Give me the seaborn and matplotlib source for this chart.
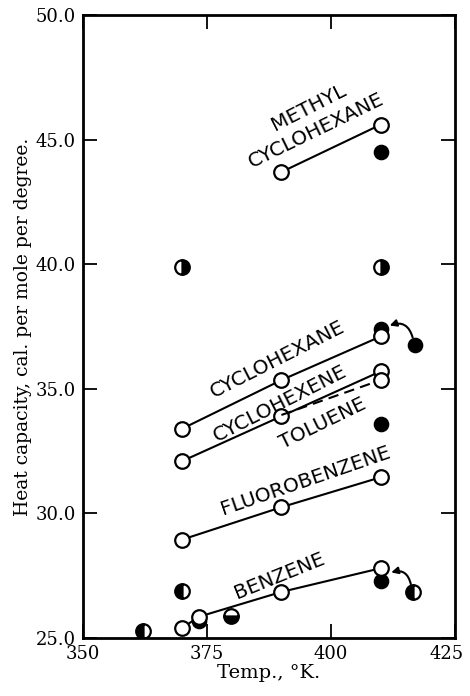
import matplotlib
matplotlib.use('Agg')
import matplotlib.pyplot as plt
import matplotlib.transforms as mtransforms
import seaborn as sns
import pandas as pd

# open circles joined by lines (smoothed values)
methyl_T = [390, 410]
methyl_cp = [43.7, 45.6]
cyclohexane_T = [370, 390, 410]
cyclohexane_cp = [33.4, 35.35, 37.1]
cyclohexene_T = [370, 390, 410]
cyclohexene_cp = [32.1, 33.9, 35.7]
toluene_T = [390, 410]
toluene_cp = [33.95, 35.35]
fluoro_T = [370, 390, 410]
fluoro_cp = [28.95, 30.25, 31.45]
benzene_T = [370, 373.3, 390, 410]
benzene_cp = [25.4, 25.85, 26.85, 27.8]

# solid circles
solid_T = [410, 410, 417, 410, 410, 373.3]
solid_cp = [44.5, 37.4, 36.75, 33.6, 27.3, 25.7]

# half filled circles
half_T = [370, 410, 362, 370, 379.8, 416.5]
half_cp = [39.9, 39.9, 25.3, 26.9, 25.9, 26.85]
half_fill = ['right', 'right', 'left', 'left', 'bottom', 'left']

labels = ['METHYL', 'CYCLOHEXANE', 'CYCLOHEXANE', 'CYCLOHEXENE', 'TOLUENE', 'FLUOROBENZENE', 'BENZENE']
label_T = [395.6, 397.0, 389.3, 389.7, 398.4, 394.8, 389.7]
label_cp = [46.3, 45.35, 36.2, 34.4, 33.6, 31.3, 27.5]
label_rot = [27, 26, 27, 27, 26, 19, 22]

sns.set_style("ticks")
plt.rcParams['font.family'] = ['DejaVu Serif']
plt.rcParams['text.color'] = 'black'
plt.rcParams['axes.labelcolor'] = 'black'

fig = plt.figure(figsize=(4.7, 6.96), dpi=100)
ax = fig.add_axes([0.1766, 0.0833, 0.7915, 0.8951])

open_kw = dict(color='black', linewidth=1.5, marker='o', markersize=10.5,
               markerfacecolor='white', markeredgecolor='black', markeredgewidth=1.6)

for T, cp in [(methyl_T, methyl_cp), (cyclohexane_T, cyclohexane_cp),
              (cyclohexene_T, cyclohexene_cp), (fluoro_T, fluoro_cp),
              (benzene_T, benzene_cp)]:
    sns.lineplot(x=T, y=cp, ax=ax, legend=False, **open_kw)

# toluene dashed
sns.lineplot(x=toluene_T, y=toluene_cp, ax=ax, color='black', linewidth=1.5,
             linestyle=(0, (5, 3)), legend=False)
ax.plot(toluene_T[-1:], toluene_cp[-1:], 'o', markersize=10.5, markerfacecolor='white',
        markeredgecolor='black', markeredgewidth=1.6)

solid = pd.DataFrame({'T': solid_T, 'cp': solid_cp})
sns.scatterplot(data=solid, x='T', y='cp', ax=ax, color='black', s=105,
                edgecolor='black', linewidth=1, zorder=1)

for T, cp, fs in zip(half_T, half_cp, half_fill):
    ax.plot([T], [cp], 'o', markersize=10.5, fillstyle=fs, markerfacecolor='black',
            markerfacecoloralt='white', markeredgecolor='black', markeredgewidth=1.6)

# little arrows pointing back to the 410 points
arrow = dict(arrowstyle='-|>', color='black', lw=1.5, mutation_scale=10,
             connectionstyle='arc3,rad=0.6')
ax.annotate('', xy=(411.3, 37.5), xytext=(416.6, 36.95), arrowprops=arrow)
ax.annotate('', xy=(411.6, 27.6), xytext=(416.2, 27.05), arrowprops=arrow)

for txt, T, cp, rot in zip(labels, label_T, label_cp, label_rot):
    ax.text(T, cp, txt, rotation=rot, ha='center', va='center', fontsize=14.5,
            family=['DejaVu Sans'], rotation_mode='anchor')

ax.set_xlim(350, 425)
ax.set_ylim(25, 50)
ax.set_xticks([350, 375, 400, 425])
ax.set_yticks([25, 30, 35, 40, 45, 50])
ax.set_yticklabels(['25.0', '30.0', '35.0', '40.0', '45.0', '50.0'])
ax.tick_params(direction='in', length=10, width=1.3, top=True, right=True,
               labelsize=13, pad=5, colors='black')
for s in ax.spines.values():
    s.set_linewidth(2)
    s.set_color('black')
ax.set_xlabel('Temp., °K.', fontsize=14, labelpad=1)
ax.set_ylabel('Heat capacity, cal. per mole per degree.', fontsize=13.5, labelpad=3)

# keep the last x label inside the canvas
last = ax.get_xticklabels()[-1]
last.set_transform(last.get_transform() + mtransforms.ScaledTranslation(-6 / 72, 0, fig.dpi_scale_trans))

fig.savefig('out.png', dpi=100)
